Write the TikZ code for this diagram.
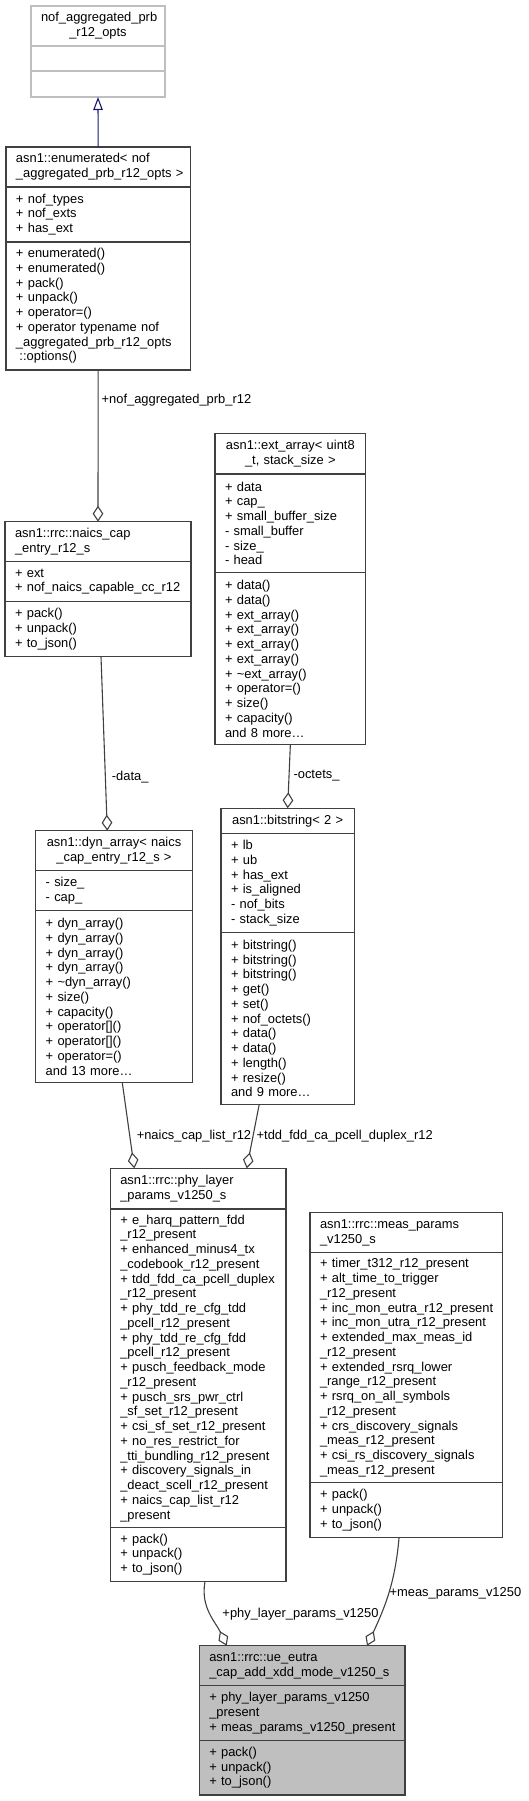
\documentclass[tikz,border=0pt]{standalone}
\usepackage{fontspec}
\setmainfont{Liberation Sans}
\usetikzlibrary{calc,positioning,arrows.meta}
\definecolor{DxBorder}{HTML}{404040}
\definecolor{DxEdge}{HTML}{404040}
\definecolor{DxInherit}{HTML}{191970}
\definecolor{DxGhost}{HTML}{BFBFBF}
\definecolor{DxMain}{HTML}{BFBFBF}
\newcommand{\dxfont}{\fontsize{12.9pt}{14.75pt}\selectfont
  \setlength{\normalbaselineskip}{14.75pt}\hyphenpenalty=10000\exhyphenpenalty=10000}
\tikzset{
  dxBase/.style={
    font=\dxfont,
    draw=DxBorder,
    line width=1.3pt,
    inner xsep=10pt,
    inner ysep=0pt,
    outer sep=0pt,
    fill=white
  },
  dxTitle/.style={
    dxBase,
    align=left
  },
  dxTitleC/.style={
    dxBase,
    align=center
  },
  dxBody/.style={
    dxBase,
    align=left
  },
  dxGhost/.style={
    dxBase,
    draw=DxGhost
  },
  dxMain/.style={
    fill=DxMain
  },
  aggArrow/.style={
    line width=1.1pt,
    color=DxEdge,
    -{Diamond[open,length=16pt,width=10.7pt]}
  },
  inhArrow/.style={
    line width=1.1pt,
    color=DxInherit,
    -{Triangle[open,length=13pt,width=9.5pt]}
  },
  edgeLbl/.style={
    font=\dxfont,
    text=black,
    anchor=west,
    inner sep=2pt
  }
}

\begin{document}
\begin{tikzpicture}[x=1pt, y=-1pt]
  \useasboundingbox (0,0) rectangle (529,1801);

  % base enum options
  \node[dxGhost, align=center, text width=114pt, minimum height=40pt, anchor=north west] (nofT) at (31,6) {nof\_aggregated\_prb\\\_r12\_opts};
  \node[dxGhost, text width=114pt, minimum height=25pt, below=0pt of nofT] (nofA) {};
  \node[dxGhost, text width=114pt, minimum height=26pt, below=0pt of nofA] (nofM) {};

  % enumerated
  \node[dxTitle, text width=164.3pt, minimum height=40pt, anchor=north west] (enumT) at (6,147) {asn1::enumerated<~nof\par\centering \_aggregated\_prb\_r12\_opts~>};
  \node[dxBody, text width=164.3pt, minimum height=55pt, below=0pt of enumT] (enumA) {+~nof\_types\\+~nof\_exts\\+~has\_ext};
  \node[dxBody, text width=164.3pt, minimum height=128pt, below=0pt of enumA] (enumM) {+~enumerated()\\+~enumerated()\\+~pack()\\+~unpack()\\+~operator=()\\+~operator~typename~nof\\\_aggregated\_prb\_r12\_opts\\\hspace*{3.5pt}::options()};

  % naics cap entry
  \node[dxTitle, text width=166pt, minimum height=40pt, anchor=north west] (naicsT) at (5,521.7) {asn1::rrc::naics\_cap\par\centering \_entry\_r12\_s};
  \node[dxBody, text width=166pt, minimum height=40pt, below=0pt of naicsT] (naicsA) {+~ext\\+~nof\_naics\_capable\_cc\_r12};
  \node[dxBody, text width=166pt, minimum height=55pt, below=0pt of naicsA] (naicsM) {+~pack()\\+~unpack()\\+~to\_json()};

  % ext_array
  \node[dxTitleC, text width=130.7pt, minimum height=40.7pt, anchor=north west] (extT) at (215,433.3) {asn1::ext\_array<~uint8\\\_t,~stack\_size~>};
  \node[dxBody, text width=130.7pt, minimum height=98.7pt, below=0pt of extT] (extA) {+~data\\+~cap\_\\+~small\_buffer\_size\\-~small\_buffer\\-~size\_\\-~head};
  \node[dxBody, text width=130.7pt, minimum height=172pt, below=0pt of extA] (extM) {+~data()\\+~data()\\+~ext\_array()\\+~ext\_array()\\+~ext\_array()\\+~ext\_array()\\+~\textasciitilde ext\_array()\\+~operator=()\\+~size()\\+~capacity()\\and~8~more\dots};

  % dyn_array
  \node[dxTitleC, text width=136.6pt, minimum height=40pt, anchor=north west] (dynT) at (35.7,830.7) {asn1::dyn\_array<~naics\\\_cap\_entry\_r12\_s~>};
  \node[dxBody, text width=136.6pt, minimum height=40pt, below=0pt of dynT] (dynA) {-~size\_\\-~cap\_};
  \node[dxBody, text width=136.6pt, minimum height=172pt, below=0pt of dynA] (dynM) {+~dyn\_array()\\+~dyn\_array()\\+~dyn\_array()\\+~dyn\_array()\\+~\textasciitilde dyn\_array()\\+~size()\\+~capacity()\\+~operator[]()\\+~operator[]()\\+~operator=()\\and~13~more\dots};

  % bitstring
  \node[dxTitleC, text width=113.3pt, minimum height=25.4pt, anchor=north west] (bitT) at (221,808.3) {asn1::bitstring<~2~>};
  \node[dxBody, text width=113.3pt, minimum height=99pt, below=0pt of bitT] (bitA) {+~lb\\+~ub\\+~has\_ext\\+~is\_aligned\\-~nof\_bits\\-~stack\_size};
  \node[dxBody, text width=113.3pt, minimum height=171.6pt, below=0pt of bitA] (bitM) {+~bitstring()\\+~bitstring()\\+~bitstring()\\+~get()\\+~set()\\+~nof\_octets()\\+~data()\\+~data()\\+~length()\\+~resize()\\and~9~more\dots};

  % phy layer params
  \node[dxTitle, text width=155.7pt, minimum height=40.7pt, anchor=north west] (phyT) at (110.3,1168.3) {asn1::rrc::phy\_layer\par\centering \_params\_v1250\_s};
  \node[dxBody, text width=155.7pt, minimum height=318.3pt, below=0pt of phyT] (phyA) {+~e\_harq\_pattern\_fdd\\\_r12\_present\\+~enhanced\_minus4\_tx\\\_codebook\_r12\_present\\+~tdd\_fdd\_ca\_pcell\_duplex\\\_r12\_present\\+~phy\_tdd\_re\_cfg\_tdd\\\_pcell\_r12\_present\\+~phy\_tdd\_re\_cfg\_fdd\\\_pcell\_r12\_present\\+~pusch\_feedback\_mode\\\_r12\_present\\+~pusch\_srs\_pwr\_ctrl\\\_sf\_set\_r12\_present\\+~csi\_sf\_set\_r12\_present\\+~no\_res\_restrict\_for\\\_tti\_bundling\_r12\_present\\+~discovery\_signals\_in\\\_deact\_scell\_r12\_present\\+~naics\_cap\_list\_r12\\\_present};
  \node[dxBody, text width=155.7pt, minimum height=54.4pt, below=0pt of phyA] (phyM) {+~pack()\\+~unpack()\\+~to\_json()};

  % meas params
  \node[dxTitle, text width=172.7pt, minimum height=40.4pt, anchor=north west] (measT) at (310,1212.3) {asn1::rrc::meas\_params\par\centering \_v1250\_s};
  \node[dxBody, text width=172.7pt, minimum height=230pt, below=0pt of measT] (measA) {+~timer\_t312\_r12\_present\\+~alt\_time\_to\_trigger\\\_r12\_present\\+~inc\_mon\_eutra\_r12\_present\\+~inc\_mon\_utra\_r12\_present\\+~extended\_max\_meas\_id\\\_r12\_present\\+~extended\_rsrq\_lower\\\_range\_r12\_present\\+~rsrq\_on\_all\_symbols\\\_r12\_present\\+~crs\_discovery\_signals\\\_meas\_r12\_present\\+~csi\_rs\_discovery\_signals\\\_meas\_r12\_present};
  \node[dxBody, text width=172.7pt, minimum height=55pt, below=0pt of measA] (measM) {+~pack()\\+~unpack()\\+~to\_json()};

  % ue eutra cap (main)
  \node[dxTitle, dxMain, text width=185.7pt, minimum height=40pt, anchor=north west] (ueT) at (199.3,1645.7) {asn1::rrc::ue\_eutra\par\centering \_cap\_add\_xdd\_mode\_v1250\_s};
  \node[dxBody, dxMain, text width=185.7pt, minimum height=55pt, below=0pt of ueT] (ueA) {+~phy\_layer\_params\_v1250\\\_present\\+~meas\_params\_v1250\_present};
  \node[dxBody, dxMain, text width=185.7pt, minimum height=54.3pt, below=0pt of ueA] (ueM) {+~pack()\\+~unpack()\\+~to\_json()};

  % edges
  \draw[inhArrow] (enumT.north) -- (nofM.south);
  \draw[aggArrow] (enumM.south) -- node[edgeLbl, pos=0.2, xshift=1pt] {+nof\_aggregated\_prb\_r12} (naicsT.north);
  \draw[aggArrow] ($(naicsM.south)+(3,0)$) -- node[edgeLbl, pos=0.69, xshift=4pt] {-data\_} ($(dynT.north)+(-6.7,0)$);
  \draw[aggArrow] (extM.south) -- node[edgeLbl, pos=0.49, xshift=2pt] {-octets\_} (bitT.north);
  \draw[aggArrow] ($(dynM.south)+(8.3,0)$) -- node[edgeLbl, pos=0.62, xshift=4.5pt] {+naics\_cap\_list\_r12} ($(phyT.north west)+(24,0)$);
  \draw[aggArrow] ($(bitM.south)+(-28.4,0)$) -- node[edgeLbl, pos=0.49, xshift=1pt] {+tdd\_fdd\_ca\_pcell\_duplex\_r12} ($(phyT.north west)+(136.4,0)$);
  \draw[aggArrow] ($(phyM.south)+(6.8,0)$) to[out=-100, in=115] node[edgeLbl, pos=0.5, xshift=10pt] {+phy\_layer\_params\_v1250} ($(ueT.north west)+(27.4,0)$);
  \draw[aggArrow] ($(measM.south)+(-7.3,0)$) to[out=-95, in=65] node[edgeLbl, pos=0.5, xshift=-1.5pt] {+meas\_params\_v1250} ($(ueT.north west)+(167.7,0)$);
\end{tikzpicture}
\end{document}
